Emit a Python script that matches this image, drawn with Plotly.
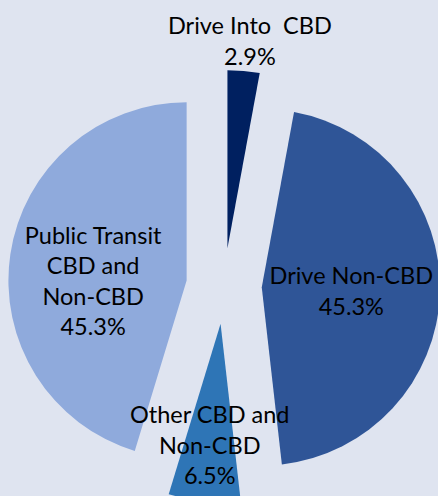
import plotly.graph_objects as go

# Data
labels = ["Drive Into  CBD", "Drive Non-CBD", "Other CBD and Non-CBD", "Public Transit CBD and Non-CBD"]
display_labels = ["Drive Into  CBD", "Drive Non-CBD", "Other CBD and<br>Non-CBD", "Public Transit<br>CBD and<br>Non-CBD"]
values = [2.9, 45.3, 6.5, 45.3]
colors = ["#002060", "#2F5597", "#2E75B6", "#8FAADC"]
text_positions = ["none", "inside", "none", "inside"]

FONT = "Lato"
FS = 23.5
# the reference pie is slightly clipped by the right and bottom edges of the 438x496 view
W, H = 440, 502
T, L = 70, 8
PW, PH = 432, 432

fig = go.Figure(
    go.Pie(
        labels=labels,
        values=values,
        text=display_labels,
        texttemplate="%{text}<br>%{percent:.1%}",
        textposition=text_positions,
        insidetextorientation="horizontal",
        sort=False,
        direction="clockwise",
        rotation=0,
        pull=[0.212] * len(values),
        marker=dict(colors=colors, line=dict(width=0)),
        textfont=dict(family=FONT, size=FS, color="#000000"),
        showlegend=False,
        hoverinfo="label+percent",
    )
)

# labels for the two small slices (placed as in the reference)
for idx, (px, py) in {0: (250, 40), 2: (210, 444)}.items():
    fig.add_annotation(
        x=(px - L) / PW, y=1 - (py - T) / PH, xref="paper", yref="paper",
        text=f"{display_labels[idx]}<br>{values[idx]:.1f}%",
        showarrow=False, xanchor="center", yanchor="middle",
        font=dict(family=FONT, size=FS, color="#000000"),
    )

fig.update_layout(
    width=W,
    height=H,
    margin=dict(l=L, r=W - L - PW, t=T, b=H - T - PH),
    paper_bgcolor="#DFE4F0",
    plot_bgcolor="#DFE4F0",
    uniformtext=dict(minsize=FS, mode="show"),
)

fig.write_html(
    "out.html",
    config={"displayModeBar": False},
    post_script="document.body.style.margin='0';document.body.style.overflow='hidden';",
)
